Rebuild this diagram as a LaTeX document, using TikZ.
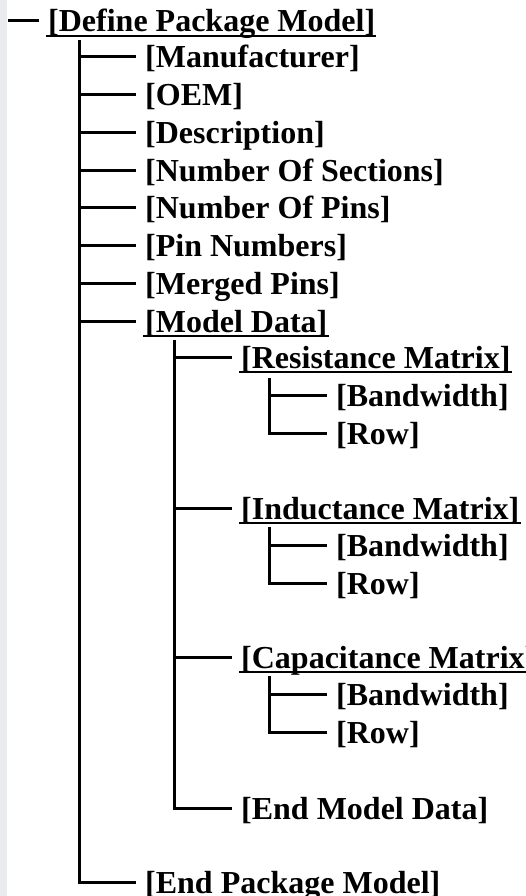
\documentclass[tikz,border=0pt]{standalone}
\usepackage{fontspec}
\setmainfont{Liberation Serif}
\usetikzlibrary{calc}
\definecolor{stripgray}{HTML}{E9EBEE}
\begin{document}
\begin{tikzpicture}[x=1pt,y=-1pt,
  lbl/.style={anchor=base west,inner sep=0pt,font=\fontsize{32}{38}\selectfont\bfseries},
  wire/.style={line width=3pt,line cap=butt,line join=miter},
  ul/.style={line width=2.4pt}]
\useasboundingbox (0,0) rectangle (526,896);
\fill[stripgray] (0,0) rectangle (7,896);
% nodes
\node[lbl] (root) at (48,32) {[Define Package Model]};
\node[lbl] (man) at (145,68) {[Manufacturer]};
\node[lbl] (oem) at (145,105.7) {[OEM]};
\node[lbl] (desc) at (145,143.4) {[Description]};
\node[lbl] (nsec) at (145,181.1) {[Number Of Sections]};
\node[lbl] (npin) at (145,218.8) {[Number Of Pins]};
\node[lbl] (pinn) at (145,256.5) {[Pin Numbers]};
\node[lbl] (merg) at (145,294.2) {[Merged Pins]};
\node[lbl] (mdat) at (145,332) {[Model Data]};
\node[lbl] (res) at (241,368) {[Resistance Matrix]};
\node[lbl] (resbw) at (336,406.5) {[Bandwidth]};
\node[lbl] (resrow) at (336,444) {[Row]};
\node[lbl] (ind) at (241,519) {[Inductance Matrix]};
\node[lbl] (indbw) at (336,556.5) {[Bandwidth]};
\node[lbl] (indrow) at (336,594) {[Row]};
\node[lbl] (cap) at (241,668) {[Capacitance Matrix]};
\node[lbl] (capbw) at (336,705.5) {[Bandwidth]};
\node[lbl] (caprow) at (336,743.5) {[Row]};
\node[lbl] (emd) at (241,819) {[End Model Data]};
\node[lbl] (epm) at (145,893) {[End Package Model]};
% underlines
\foreach \n in {root,mdat,res,ind,cap}
  \draw[ul] ($(\n.base west)+(-2,3.8)$) -- ($(\n.base east)+(1,3.8)$);
% hooks (branch end points next to each label)
\foreach \n in {root,man,oem,desc,nsec,npin,pinn,merg,mdat,res,ind,cap,emd,epm,resbw,resrow,indbw,indrow,capbw,caprow}
  \coordinate (\n-h) at ($(\n.base west)+(-9,-11)$);
% free ends / trunk tops
\coordinate (rootstart) at (8,21);
\coordinate (t1) at (79,40);
\coordinate (t2) at (174,340);
\coordinate (t3a) at (269,378);
\coordinate (t3b) at (269,527);
\coordinate (t3c) at (269,676);
% root dash
\draw[wire] (rootstart) -- (root-h);
% level 1
\draw[wire] (t1) |- (epm-h);
\foreach \n in {man,oem,desc,nsec,npin,pinn,merg,mdat}
  \draw[wire] (\n-h) -- (\n-h -| t1);
% level 2
\draw[wire] (t2) |- (emd-h);
\foreach \n in {res,ind,cap}
  \draw[wire] (\n-h) -- (\n-h -| t2);
% level 3
\draw[wire] (t3a) |- (resrow-h);
\draw[wire] (resbw-h) -- (resbw-h -| t3a);
\draw[wire] (t3b) |- (indrow-h);
\draw[wire] (indbw-h) -- (indbw-h -| t3b);
\draw[wire] (t3c) |- (caprow-h);
\draw[wire] (capbw-h) -- (capbw-h -| t3c);
\end{tikzpicture}
\end{document}
